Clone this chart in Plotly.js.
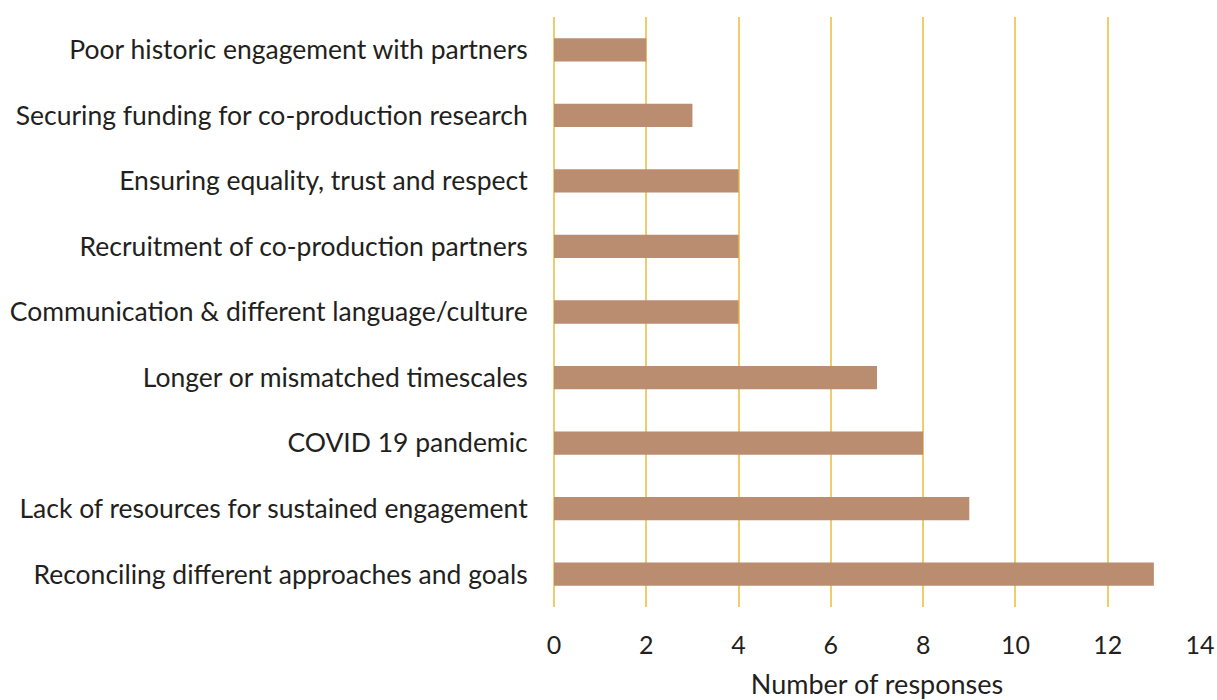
<!DOCTYPE html>
<html>
<head>
<meta charset="utf-8">
<script src="https://cdn.plot.ly/plotly-3.0.1.min.js"></script>
<style>html,body{margin:0;padding:0;background:#fff;}#chart{width:1217px;height:700px;}</style>
</head>
<body>
<div id="chart"></div>
<script>
const categories = [
  "Poor historic engagement with partners",
  "Securing funding for co-production research",
  "Ensuring equality, trust and respect",
  "Recruitment of co-production partners",
  "Communication & different language/culture",
  "Longer or mismatched timescales",
  "COVID 19 pandemic",
  "Lack of resources for sustained engagement",
  "Reconciling different approaches and goals"
];
const responses = [2, 3, 4, 4, 4, 7, 8, 9, 13];
const xTicks = [0, 2, 4, 6, 8, 10, 12, 14];

const font = "Lato, 'Open Sans', sans-serif";
Plotly.newPlot('chart', [{
  type: 'bar',
  orientation: 'h',
  x: responses,
  y: categories,
  width: 0.355,
  marker: {color: '#BA8C70', line: {width: 0}},
  hoverinfo: 'x+y'
}], {
  width: 1217, height: 700,
  margin: {l: 554, r: 17, t: 17, b: 93, pad: 0},
  paper_bgcolor: '#fff', plot_bgcolor: '#fff',
  showlegend: false,
  font: {family: font, color: '#231F20'},
  xaxis: {
    range: [0, 14],
    tickvals: xTicks,
    ticktext: xTicks.map(String),
    showgrid: true, gridcolor: '#F0CC6A', gridwidth: 2,
    zeroline: true, zerolinecolor: '#F0CC6A', zerolinewidth: 2,
    showline: false,
    ticks: 'outside', ticklen: 16, tickcolor: 'rgba(0,0,0,0)',
    tickfont: {size: 25, family: font, color: '#231F20'},
    title: {text: 'Number of responses', font: {size: 27, family: font, color: '#231F20'}, standoff: 19},
    automargin: false,
    fixedrange: true
  },
  yaxis: {
    autorange: 'reversed',
    showgrid: false, zeroline: false, showline: false,
    ticks: 'outside', ticklen: 20, tickcolor: 'rgba(0,0,0,0)',
    tickfont: {size: 26.5, family: font, color: '#231F20'},
    automargin: false,
    fixedrange: true
  }
}, {displayModeBar: false, staticPlot: true});
</script>
</body>
</html>
